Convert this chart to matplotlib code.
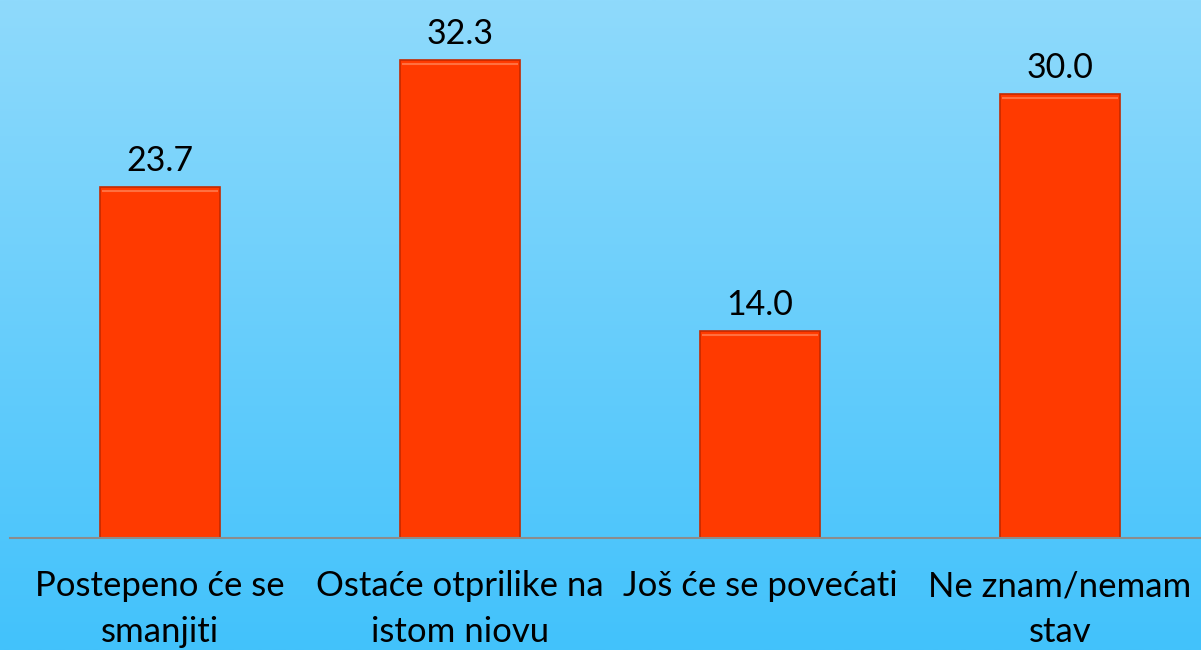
import numpy as np
import matplotlib.pyplot as plt
import matplotlib.transforms as mtransforms
from matplotlib.colors import LinearSegmentedColormap

categories = ['Postepeno će se\nsmanjiti', 'Ostaće otprilike na\nistom niovu',
              'Još će se povećati', 'Ne znam/nemam\nstav']
values = [23.7, 32.3, 14.0, 30.0]
labels = ['23.7', '32.3', '14.0', '30.0']

plt.rcParams['font.family'] = ['Lato', 'DejaVu Sans']

fig = plt.figure(figsize=(12.01, 6.5), dpi=100)

# gradient background
bg = fig.add_axes([0, 0, 1, 1])
cmap = LinearSegmentedColormap.from_list('bg', ['#8fdafc', '#42c2fb'])
grad = np.linspace(0, 1, 256).reshape(-1, 1)
bg.imshow(grad, aspect='auto', cmap=cmap, extent=[0, 1, 0, 1], origin='upper')
bg.axis('off')

# axes: baseline at y=538 px, 14.79 px per unit
W, H = 1201, 650
top = 538 - 35 * 14.79
ax = fig.add_axes([10 / W, (H - 538) / H, 1200 / W, (538 - top) / H])
ax.patch.set_alpha(0)

x = np.arange(len(categories))
bars = ax.bar(x, values, width=0.4, color='#ff3a00', edgecolor='#c42a00', linewidth=1.2, zorder=2)
# thin highlight near bar tops for a bevel look
for b in bars:
    ax.plot([b.get_x() + 0.01, b.get_x() + b.get_width() - 0.01],
            [b.get_height() - 0.25] * 2, color='#ff7040', lw=1.5, zorder=3)

for xi, v, lab in zip(x, values, labels):
    ax.text(xi, v + 1.1, lab, ha='center', va='baseline', fontsize=24.5, color='black')

# category labels, centred line by line
trans = mtransforms.blended_transform_factory(ax.transData, fig.transFigure)
for xi, cat in zip(x, categories):
    ax.text(xi, (H - 570) / H, cat, transform=trans, ha='center', va='top',
            multialignment='center', fontsize=25, linespacing=1.53, clip_on=False)

ax.set_xlim(-0.5, len(categories) - 0.5)
ax.set_ylim(0, 35)
ax.set_xticks([])
ax.set_yticks([])
for s in ['top', 'right', 'left']:
    ax.spines[s].set_visible(False)
ax.spines['bottom'].set_color('#8c8c8c')
ax.spines['bottom'].set_linewidth(1.5)

fig.savefig('out.png', dpi=100)
